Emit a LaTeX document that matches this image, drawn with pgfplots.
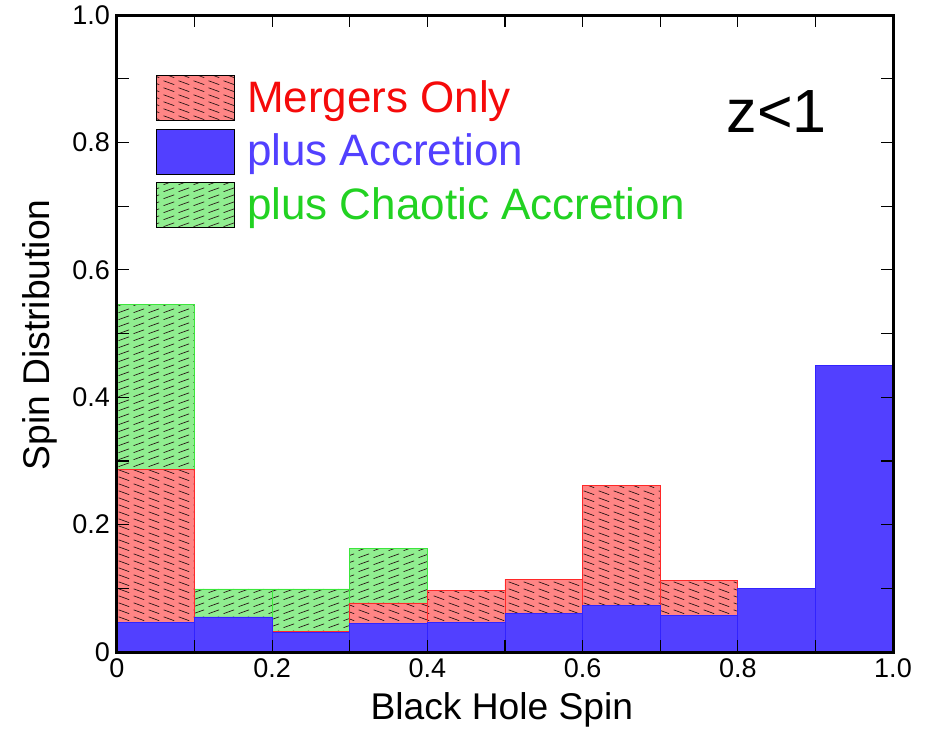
\documentclass[border=0pt]{standalone}
\usepackage{fontspec}
\setmainfont{Liberation Sans}
\usepackage{pgfplots}
\pgfplotsset{compat=1.18}
\usetikzlibrary{patterns}

\definecolor{mred}{RGB}{245,10,10}
\definecolor{mredfill}{RGB}{255,133,133}
\definecolor{mredline}{RGB}{255,40,40}
\definecolor{mblue}{RGB}{82,64,255}
\definecolor{mblueline}{RGB}{50,35,255}
\definecolor{mgreenfill}{RGB}{144,238,144}
\definecolor{mgreenline}{RGB}{60,230,60}
\definecolor{mgreen}{RGB}{34,210,34}
\definecolor{hatch}{RGB}{40,20,20}

\pgfdeclarepatternformonly{reddash}{\pgfqpoint{0pt}{0pt}}{\pgfqpoint{7.35pt}{3.35pt}}{\pgfqpoint{7.35pt}{3.35pt}}{%
  \pgfsetlinewidth{0.35pt}%
  \pgfpathmoveto{\pgfqpoint{0.8pt}{2.7pt}}\pgfpathlineto{\pgfqpoint{6.2pt}{0.7pt}}\pgfusepath{stroke}}
\pgfdeclarepatternformonly{greendash}{\pgfqpoint{0pt}{0pt}}{\pgfqpoint{7.35pt}{3.35pt}}{\pgfqpoint{7.35pt}{3.35pt}}{%
  \pgfsetlinewidth{0.35pt}%
  \pgfpathmoveto{\pgfqpoint{0.8pt}{0.7pt}}\pgfpathlineto{\pgfqpoint{6.2pt}{2.7pt}}\pgfusepath{stroke}}

\begin{document}
\begin{tikzpicture}
\useasboundingbox (-58.5pt,-39pt) rectangle (408pt,326pt);
\begin{axis}[
  at={(0,0)}, anchor=south west,
  scale only axis, width=388pt, height=318.5pt,
  xmin=0, xmax=1, ymin=0, ymax=1,
  xtick={0,0.2,0.4,0.6,0.8,1.0}, xticklabels={0,0.2,0.4,0.6,0.8,1.0},
  ytick={0,0.2,0.4,0.6,0.8,1.0}, yticklabels={0,0.2,0.4,0.6,0.8,1.0},
  minor xtick={0.1,0.3,0.5,0.7,0.9}, minor ytick={0.1,0.3,0.5,0.7,0.9},
  tick align=inside, major tick length=6pt, minor tick length=6pt,
  tick style={black, line width=0.6pt},
  axis line style={black, line width=1.5pt},
  axis on top,
  ticklabel style={font=\fontsize{13.5}{16}\selectfont},
  xlabel={Black Hole Spin}, ylabel={Spin Distribution},
  label style={font=\fontsize{18.6}{22}\selectfont},
  xlabel style={at={(axis description cs:0.496,-0.091)}, anchor=center},
  ylabel style={at={(axis description cs:-0.0992,0.498)}, anchor=center},
  legend style={at={(axis description cs:0.05,0.906)}, anchor=north west,
    draw=none, fill=none, inner sep=0pt, row sep=3.75pt,
    font=\fontsize{22}{25}\selectfont,
    /tikz/every odd column/.append style={column sep=4pt}},
  legend cell align=left,
]
\addlegendimage{legend image code/.code={\fill[fill=mredfill] (0pt,-11.25pt) rectangle (39pt,11.25pt); \fill[pattern=reddash, pattern color=hatch] (0pt,-11.25pt) rectangle (39pt,11.25pt);}}
\addlegendentry{\textcolor{mred}{Mergers Only}}
\addlegendimage{legend image code/.code={\fill[fill=mblue] (0pt,-11.25pt) rectangle (39pt,11.25pt);}}
\addlegendentry{\textcolor{mblue}{plus Accretion}}
\addlegendimage{legend image code/.code={\fill[fill=mgreenfill] (0pt,-11.25pt) rectangle (39pt,11.25pt); \fill[pattern=greendash, pattern color=hatch] (0pt,-11.25pt) rectangle (39pt,11.25pt);}}
\addlegendentry{\textcolor{mgreen}{plus Chaotic Accretion}}

% plus Chaotic Accretion
\addplot[ybar interval, draw=mgreenline, fill=mgreenfill, postaction={pattern=greendash, pattern color=hatch}, forget plot] coordinates {
(0.0,0.545) (0.1,0.099) (0.2,0.099) (0.3,0.162) (0.4,0.030) (0.5,0.020) (0.6,0.020) (0.7,0.010) (0.8,0.010) (0.9,0.005) (1.0,0.005)};
% Mergers Only
\addplot[ybar interval, draw=mredline, fill=mredfill, postaction={pattern=reddash, pattern color=hatch}, forget plot] coordinates {
(0.0,0.287) (0.1,0.020) (0.2,0.032) (0.3,0.077) (0.4,0.097) (0.5,0.114) (0.6,0.262) (0.7,0.112) (0.8,0.000) (0.9,0.000) (1.0,0.000)};
% plus Accretion
\addplot[ybar interval, draw=mblueline, fill=mblue, forget plot] coordinates {
(0.0,0.046) (0.1,0.055) (0.2,0.030) (0.3,0.045) (0.4,0.046) (0.5,0.060) (0.6,0.073) (0.7,0.058) (0.8,0.100) (0.9,0.450) (1.0,0.450)};

\node[font=\fontsize{30.5}{35}\selectfont, anchor=center] at (axis description cs:0.85,0.848) {z<1};
\end{axis}
\end{tikzpicture}
\end{document}
